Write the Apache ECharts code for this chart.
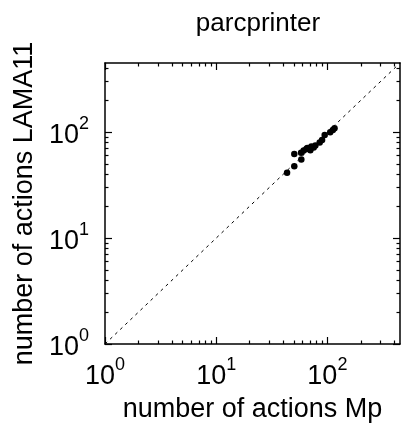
<!DOCTYPE html>
<html>
<head>
<meta charset="utf-8">
<script src="https://cdn.jsdelivr.net/npm/echarts@6/dist/echarts.min.js"></script>
<style>
html,body{margin:0;padding:0;background:#fff;}
#c{width:401px;height:433px;}
</style>
</head>
<body>
<div id="c"></div>
<script>
// number of actions (Mp planner) -> x
const mpActions = [43.4, 50.4, 50.4, 58.3, 58, 61.2, 64.7, 66, 70.3, 71.8, 75.3, 78, 85.3, 89.6, 94.6, 106, 112, 116];
// number of actions (LAMA11 planner) -> y
const lamaActions = [41.3, 47.8, 62.1, 55.3, 64, 67, 69.4, 71, 67.4, 73.1, 71.5, 75, 79.8, 84.5, 94.2, 100, 105, 109];
const majorTicks = [1, 10, 100];
const minorTicks = [2,3,4,5,6,7,8,9,20,30,40,50,60,70,80,90,200,300,400];
const diagonal = [1, 450];
const axisMin = 1, axisMax = 450;
const titleText = 'parcprinter';
const xName = 'number of actions Mp';
const yName = 'number of actions LAMA11';

const FONT = 'Liberation Sans';
function fmt(v){
  const e = Math.round(Math.log10(v));
  return '{b|10}{s|' + e + '}';
}
const rich = {
  b:{fontSize:27, fontFamily:FONT, color:'#000', verticalAlign:'bottom', lineHeight:34},
  s:{fontSize:18, fontFamily:FONT, color:'#000', verticalAlign:'top', lineHeight:18}
};
const lineStyle = {color:'#000', width:1.5};

function mkAxis(pos, main, ticks, len, showLine){
  return {
    type:'log', logBase:10, min:axisMin, max:axisMax, position:pos, gridIndex:0,
    axisLine:{show:showLine, onZero:false, lineStyle},
    axisTick:{show:true, inside:true, length:len, customValues:ticks, lineStyle:{color:'#000', width:1.2}},
    axisLabel:{show:main, customValues:ticks, formatter:fmt, rich, margin:12},
    splitLine:{show:false}, minorTick:{show:false}
  };
}
const chart = echarts.init(document.getElementById('c'), null, {renderer:'canvas'});
const xMain = mkAxis('bottom', true, majorTicks, 7, true);
xMain.name = xName; xMain.nameLocation='middle'; xMain.nameGap=52;
xMain.nameTextStyle={fontSize:27, fontFamily:FONT, color:'#000'};
const yMain = mkAxis('left', true, majorTicks, 7, true);
yMain.name = yName; yMain.nameLocation='middle'; yMain.nameGap=64;
yMain.nameTextStyle={fontSize:27, fontFamily:FONT, color:'#000'};
yMain.axisLabel.margin = 16;

chart.setOption({
  animation:false,
  backgroundColor:'#fff',
  title:{text:titleText, left:253, textAlign:'center', top:6,
    textStyle:{fontSize:26, fontWeight:'normal', fontFamily:FONT, color:'#000'}},
  grid:{left:105, right:1, top:63, bottom:89, containLabel:false},
  xAxis:[
    xMain,
    mkAxis('top', false, majorTicks, 7, true),
    mkAxis('bottom', false, minorTicks, 3.5, false),
    mkAxis('top', false, minorTicks, 3.5, false)
  ],
  yAxis:[
    yMain,
    mkAxis('right', false, majorTicks, 7, true),
    mkAxis('left', false, minorTicks, 3.5, false),
    mkAxis('right', false, minorTicks, 3.5, false)
  ],
  series:[
    {type:'line', xAxisIndex:0, yAxisIndex:0, data:diagonal.map(v=>[v,v]), symbol:'none',
     lineStyle:{color:'#000', width:1, type:[3,4]}, silent:true},
    {type:'scatter', xAxisIndex:0, yAxisIndex:0, symbol:'circle', symbolSize:6.5,
     itemStyle:{color:'#000', opacity:1}, data:mpActions.map((x,i)=>[x, lamaActions[i]])}
  ]
});
</script>
</body>
</html>
